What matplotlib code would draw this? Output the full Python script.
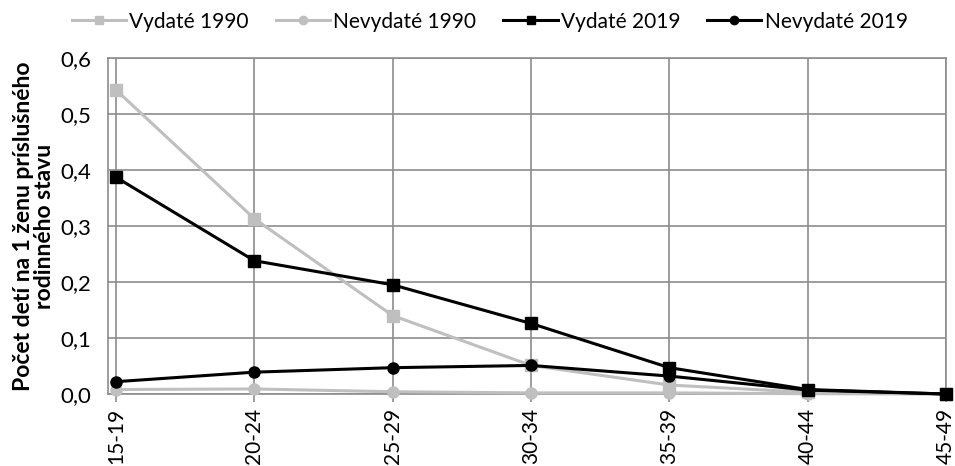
import matplotlib.pyplot as plt

plt.rcParams['font.family'] = ['Lato', 'DejaVu Sans']

# age groups
ages = ["15-19", "20-24", "25-29", "30-34", "35-39", "40-44", "45-49"]

vydate_1990 = [0.543, 0.313, 0.140, 0.051, 0.016, 0.003, 0.0]
nevydate_1990 = [0.008, 0.009, 0.004, 0.002, 0.002, 0.0005, 0.0]
vydate_2019 = [0.387, 0.238, 0.195, 0.126, 0.047, 0.008, 0.0]
nevydate_2019 = [0.022, 0.039, 0.047, 0.051, 0.032, 0.007, 0.0]

fig = plt.figure(figsize=(9.55, 4.66), dpi=100)
ax = fig.add_axes([108 / 955, 1 - 394 / 466, (946 - 108) / 955, (394 - 58) / 466])

x = range(len(ages))
gray = "#bfbfbf"
style = dict(lw=2.2, ms=8, clip_on=False)
ax.plot(x, vydate_1990, color=gray, marker="s", label="Vydaté 1990", zorder=3, **style)
ax.plot(x, nevydate_1990, color=gray, marker="o", label="Nevydaté 1990", zorder=3, **style)
ax.plot(x, vydate_2019, color="black", marker="s", label="Vydaté 2019", zorder=4, **style)
ax.plot(x, nevydate_2019, color="black", marker="o", label="Nevydaté 2019", zorder=4, **style)

ax.set_xlim(-0.058, 6)
ax.set_ylim(0, 0.6)
ax.set_xticks(list(x))
ax.set_xticklabels(ages, rotation=90, fontsize=15)
yt = [0, 0.1, 0.2, 0.3, 0.4, 0.5, 0.6]
ax.set_yticks(yt)
ax.set_yticklabels([f"{v:.1f}".replace(".", ",") for v in yt], fontsize=16)

ax.grid(True, color="#8c8c8c", lw=1.2)
ax.set_axisbelow(True)
for s in ax.spines.values():
    s.set_color("#8c8c8c")
    s.set_linewidth(1.2)
ax.tick_params(axis="both", color="#8c8c8c", length=6, width=1.2)
ax.tick_params(axis="y", length=0, pad=12)
ax.tick_params(axis="x", pad=4)

ax.set_ylabel("Počet detí na 1 ženu príslušného\nrodinného stavu", fontsize=16.5,
              fontweight="bold", labelpad=4, linespacing=1.0)

fig.legend(loc="upper center", bbox_to_anchor=(0.513, 1.015), ncol=4, frameon=False,
           fontsize=15, handlelength=2.6, handletextpad=0.15, columnspacing=1.3,
           markerscale=0.75)

fig.savefig("out.png", dpi=100)
